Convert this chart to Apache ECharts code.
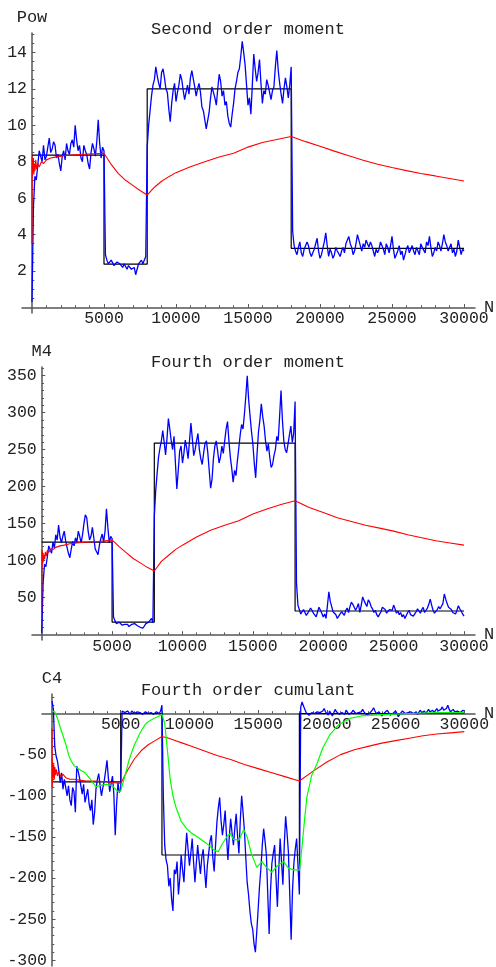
<!DOCTYPE html>
<html><head><meta charset="utf-8">
<script src="https://cdn.jsdelivr.net/npm/echarts@6/dist/echarts.min.js"></script>
<style>html,body{margin:0;padding:0;background:#fff}#c{width:496px;height:967px}</style>
</head><body><div id="c"></div>
<script>
// ---- data ----
const STEP = 100; // blue samples every 100 (N = 0..30000)
const powBlue = [
  0.3,5.5,7.2,7.0,7.8,8.6,8.5,8.0,8.9,8.1,
  8.3,8.8,9.3,8.5,8.7,9.1,8.9,8.2,8.4,7.9,
  7.5,8.3,8.6,8.1,9.0,8.6,8.4,9.0,9.2,8.8,
  10.0,9.2,8.6,8.9,8.2,8.0,8.9,8.6,8.4,7.9,
  7.6,8.5,9.0,8.7,8.3,9.1,10.3,9.0,8.2,8.8,
  8.6,2.9,2.6,2.4,2.3,2.6,2.5,2.3,2.2,2.5,
  2.6,2.4,2.3,2.2,2.4,2.5,2.1,2.3,2.3,2.1,
  2.0,2.2,1.8,2.1,2.4,2.3,2.6,2.4,2.5,2.8,
  8.8,10.0,10.8,11.6,12.2,12.5,13.2,12.7,12.3,12.0,
  12.9,13.1,12.6,12.0,11.8,10.9,10.2,11.2,11.9,12.3,
  11.3,11.8,12.2,12.8,12.5,11.9,11.4,11.8,12.2,11.7,
  12.6,13.0,12.9,12.1,11.6,12.0,12.3,11.8,11.0,10.8,
  10.3,9.8,9.9,10.7,11.5,12.1,11.8,11.5,11.1,12.0,
  12.8,12.4,11.6,11.9,11.1,11.3,10.5,10.1,9.9,10.6,
  11.2,12.0,12.4,12.9,13.1,13.8,14.6,14.0,13.3,12.2,
  11.1,11.5,10.6,12.2,13.9,13.1,12.4,12.9,13.6,12.3,
  11.2,11.9,11.7,12.5,12.2,11.8,11.4,11.9,12.1,13.2,
  14.1,13.0,12.3,11.7,11.2,12.0,12.6,12.1,11.5,12.2,
  13.2,4.2,3.4,3.1,2.9,3.3,3.6,3.0,2.8,3.2,
  3.1,3.6,3.4,3.0,2.8,3.0,3.2,3.5,3.8,3.1,
  2.7,2.9,3.0,3.6,4.1,3.4,2.8,3.2,3.0,2.7,
  2.9,3.3,3.1,3.0,2.8,3.1,3.3,3.0,3.5,3.7,
  3.9,3.5,3.3,2.9,3.1,3.5,4.0,3.7,3.4,3.1,
  3.5,3.3,3.7,3.5,3.3,3.6,3.4,3.1,2.8,3.2,
  3.0,3.2,3.6,3.4,3.2,2.9,3.5,3.3,3.0,3.4,
  3.9,3.2,2.7,2.9,3.1,3.4,2.9,3.1,2.6,2.9,
  3.2,3.4,3.0,3.2,3.4,3.1,2.9,3.3,3.1,2.9,
  3.5,3.3,3.2,3.0,3.6,3.4,3.9,3.3,2.8,3.0,
  3.3,3.1,3.6,3.4,3.1,3.5,4.0,3.6,3.4,3.1,
  3.2,3.5,3.0,3.2,2.8,3.1,3.7,3.3,2.9,3.2,
  3.1];
const m4Blue = [
  2,70,95,92,105,120,118,110,125,117,
  135,128,148,132,124,133,140,127,118,110,
  104,116,126,120,131,125,140,133,124,135,
  150,162,158,140,128,133,145,131,116,112,
  108,121,130,136,125,140,170,145,124,133,
  130,24,19,15,13,17,16,13,15,14,
  12,14,11,13,14,12,15,13,12,10,
  10,12,9,11,15,13,17,15,22,16,
  160,195,218,240,252,262,276,260,243,265,
  292,278,262,250,268,232,197,222,248,255,
  232,245,263,252,238,262,286,265,242,250,
  262,272,250,238,230,245,258,262,246,222,
  198,210,238,255,262,248,232,240,255,245,
  262,278,288,262,240,225,206,222,215,235,
  252,270,284,278,298,322,350,318,296,275,
  258,232,212,245,274,290,312,295,282,262,
  248,258,240,226,230,242,250,268,262,295,
  330,290,262,250,246,258,270,282,260,272,
  315,70,40,34,28,31,34,30,26,29,
  30,36,33,29,27,24,31,37,35,29,
  24,28,22,40,58,45,38,31,33,27,
  22,25,27,31,29,26,33,36,30,38,
  44,41,39,33,37,42,30,40,51,46,
  42,38,47,44,38,35,30,33,27,24,
  25,31,37,35,34,29,31,34,36,33,
  40,35,29,32,27,30,24,27,22,26,
  30,33,27,29,25,28,31,35,32,29,
  34,37,30,33,36,41,48,40,33,29,
  30,34,38,35,33,42,55,48,42,37,
  38,34,30,32,28,33,39,35,32,28,
  25];
const c4Blue = [
  15,5,-40,-52,-58,-70,-84,-72,-92,-80,
  -82,-100,-88,-105,-112,-90,-95,-120,-64,-70,
  -78,-88,-98,-86,-108,-100,-92,-110,-118,-105,
  -135,-120,-92,-80,-73,-88,-100,-90,-82,-70,
  -57,-78,-95,-85,-76,-98,-148,-110,-84,-96,
  -92,3,4,1,2,3,1,-1,3,1,
  0,2,2,0,1,3,-1,1,2,0,
  0,2,1,0,-1,1,2,0,0,3,
  10,-100,-160,-178,-185,-210,-200,-225,-240,-190,
  -195,-180,-220,-200,-172,-190,-205,-170,-145,-165,
  -185,-170,-152,-180,-205,-182,-160,-178,-195,-175,
  -165,-190,-212,-185,-170,-155,-148,-175,-192,-160,
  -132,-115,-102,-130,-148,-135,-118,-150,-178,-150,
  -128,-145,-160,-140,-122,-148,-170,-130,-100,-120,
  -142,-175,-205,-220,-240,-255,-262,-280,-290,-265,
  -238,-210,-188,-160,-140,-155,-172,-220,-268,-215,
  -182,-170,-160,-200,-235,-190,-152,-180,-208,-160,
  -125,-145,-168,-220,-275,-215,-182,-165,-152,-185,
  -220,8,14,9,5,1,2,-2,-3,1,
  3,0,-2,2,4,1,-1,3,6,2,
  0,-2,3,1,-3,1,5,2,1,-1,
  -2,1,2,-1,4,2,-1,0,1,4,
  3,0,-2,1,0,2,5,2,1,-2,
  -3,0,2,4,7,3,0,-1,2,0,
  -3,-1,1,3,4,1,-2,-1,0,2,
  3,0,-4,-1,1,3,2,0,-2,1,
  0,2,3,0,1,2,-1,1,4,1,
  2,3,0,2,5,2,3,4,1,3,
  6,3,2,5,8,4,3,6,10,5,
  2,4,5,2,1,3,4,1,2,4,
  3];

const redN = [0,15,30,50,70,100,130,170,210,260, 320,400,500,650,800,1000,1300,1600,2000,2500,
  3000,4000,5000,5500,6000,6500,7000,7500,8000,8500, 9000,9500,10000,11000,12000,13000,14000,15000,16000,17000,
  18000,19000,20000,21000,22000,23000,24000,25000,26000,27000,28000,29000,30000];
const powRed = [3.5,8.3,7.2,8.1,7.4,8.2,7.3,7.9,7.5,8.1, 7.6,7.9,7.7,8.0,7.9,8.1,8.2,8.25,8.3,8.35,
  8.38,8.42,8.46,7.85,7.35,6.98,6.7,6.42,6.17,6.6, 6.93,7.18,7.4,7.72,8.0,8.26,8.46,8.8,9.05,9.22,
  9.38,9.1,8.85,8.58,8.33,8.08,7.86,7.68,7.51,7.35,7.22,7.08,6.94];
const m4Red = [30,115,92,112,96,110,99,108,102,112, 106,114,111,116,115,118,120,121,123,124,
  125,126,128,119,111,103,97,91,86,99, 107,115,121,132,141,148,154,163,170,176,
  181,172,165,158,153,148,144,140,135,131,127,124,121];
const c4Red = [-18,-90,-55,-82,-60,-78,-62,-80,-65,-75, -68,-76,-70,-77,-74,-78,-80,-80,-81,-82,
  -82,-83,-85,-69,-55,-45,-38,-33,-28,-30, -33,-36,-39,-45,-51,-56,-62,-67,-72,-77,
  -82,-70,-59,-50,-44,-40,-36,-33,-30,-27,-25,-23.5,-22];

const greenN = [0,200,400,600,800,1000,1200,1400,1600,1800, 2000,2400,2800,3200,3600,4000,4400,4800,5000,5200,
  5400,5600,5800,6000,6200,6400,6600,6800,7000,7400, 7800,8000,8200,8400,8600,8800,9000,9400,9800,10200,
  10600,11000,11400,11800,12100,12400,12800,13000,13200,13600, 13950,14200,14500,14900,15280,15600,16000,16400,16850,17200,
  17600,18020,18200,18400,18550,18900,19280,19700,20250,20900, 21700,22500,23400,24500,26000,28000,30000];
const c4Green = [3,2,-6,-17,-27,-37,-50,-58,-63,-66, -68,-72,-80,-89,-87,-86,-88,-95,-94,-82,
  -70,-57,-47,-38,-31,-24,-18,-13,-10,-6, -3,-1,-12,-45,-80,-100,-113,-131,-140,-146,
  -150,-155,-160,-166,-168,-158,-148,-146,-153,-154, -141,-150,-170,-187,-180,-187,-193,-185,-180,-188,
  -190,-190,-160,-125,-101,-75,-61,-42,-25,-13, -6,-3,-2,-1,0,1,1];

const stepN = [0,5000,5000,8000,8000,18000,18000,30000];
const powBlack = [8.36,8.36,2.38,2.38,12.0,12.0,3.25,3.25];
const m4Black = [125,125,17,17,259,259,32,32];
const c4Black = [-83,-83,0,0,-172,-172,0,0];

const xMajor = [5000,10000,15000,20000,25000,30000];
const powMajor = [2,4,6,8,10,12,14];
const m4Major = [50,100,150,200,250,300,350];
const c4Major = [-50,-100,-150,-200,-250,-300];
const titles = ['Second order moment','Fourth order moment','Fourth order cumulant'];
const yNames = ['Pow','M4','C4'];

// ---- minor tick positions ----
const xMinor = []; for (let k = 1; k <= 30; k++) if (k % 5) xMinor.push(k * 1000);
const powMinor = []; for (let k = 1; k <= 30; k++) if (k % 4) powMinor.push(k * 0.5);
const m4Minor = []; for (let k = 1; k <= 36; k++) if (k % 5) m4Minor.push(k * 10);
const c4Minor = []; for (let k = -30; k <= 2; k++) if (k % 5) c4Minor.push(k * 10);

const zip = (a, b) => a.map((v, i) => [v, b[i]]);
const blueN = powBlue.map((_, i) => i * STEP);

const FONT = '"Liberation Mono", "DejaVu Sans Mono", monospace';
const AX = '#555', TX = '#222';
const fmt = v => String(v);

const panels = [
  {grid:{left:22, top:33, width:453, height:280}, xMin:-694, xMax:30764, yMin:-0.30, yMax:15.06,
   yMajor:powMajor, yMinor:powMinor, titleTop:16, blue:powBlue, red:powRed, black:powBlack},
  {grid:{left:32, top:367, width:443, height:273}, xMin:-689, xMax:30781, yMin:-7.2, yMax:361.8,
   yMajor:m4Major, yMinor:m4Minor, titleTop:349, blue:m4Blue, red:m4Red, black:m4Black},
  {grid:{left:42, top:694, width:433, height:272}, xMin:-728, xMax:30779, yMin:-306.9, yMax:23.7,
   yMajor:c4Major, yMinor:c4Minor, titleTop:677, blue:c4Blue, red:c4Red, black:c4Black, green:c4Green}
];

const option = {animation:false, backgroundColor:'#fff', title:[], grid:[], xAxis:[], yAxis:[], series:[]};
panels.forEach((p, i) => {
  option.title.push({text:titles[i], left:'center', top:p.titleTop,
    textStyle:{fontFamily:FONT, fontSize:17, fontWeight:'normal', color:TX}});
  option.grid.push(Object.assign({outerBoundsMode:'none', containLabel:false}, p.grid));
  const xi = 2 * i, yi = 2 * i;
  // place axes through the origin: shift from grid edge to the zero of the other axis
  const xOff = -p.grid.height * (0 - p.yMin) / (p.yMax - p.yMin);
  const yOff = -p.grid.width * (0 - p.xMin) / (p.xMax - p.xMin);
  option.xAxis.push({type:'value', gridIndex:i, min:p.xMin, max:p.xMax, position:'bottom', offset:xOff,
    name:'N', nameLocation:'end', nameGap:9, nameMoveOverlap:false,
    nameTextStyle:{fontFamily:FONT, fontSize:17, color:TX},
    axisLine:{show:true, onZero:false, lineStyle:{color:AX, width:1.5}},
    axisTick:{show:true, inside:true, length:3.5, customValues:xMajor, lineStyle:{color:AX, width:1}},
    axisLabel:{show:true, customValues:xMajor, formatter:fmt, fontFamily:FONT, fontSize:16.5, color:TX, margin:3},
    splitLine:{show:false}});
  option.xAxis.push({type:'value', gridIndex:i, min:p.xMin, max:p.xMax, position:'bottom', offset:xOff,
    axisLine:{show:false, onZero:false},
    axisTick:{show:true, inside:true, length:2.3, customValues:xMinor, lineStyle:{color:AX, width:1}},
    axisLabel:{show:false}, splitLine:{show:false}});
  option.yAxis.push({type:'value', gridIndex:i, min:p.yMin, max:p.yMax, position:'left', offset:yOff,
    name:yNames[i], nameLocation:'end', nameGap:7, nameMoveOverlap:false,
    nameTextStyle:{fontFamily:FONT, fontSize:17, color:TX},
    axisLine:{show:true, onZero:false, lineStyle:{color:AX, width:1.5}},
    axisTick:{show:true, inside:true, length:3.5, customValues:p.yMajor, lineStyle:{color:AX, width:1}},
    axisLabel:{show:true, customValues:p.yMajor, formatter:fmt, fontFamily:FONT, fontSize:16.5, color:TX, margin:5},
    splitLine:{show:false}});
  option.yAxis.push({type:'value', gridIndex:i, min:p.yMin, max:p.yMax, position:'left', offset:yOff,
    axisLine:{show:false, onZero:false},
    axisTick:{show:true, inside:true, length:2.3, customValues:p.yMinor, lineStyle:{color:AX, width:1}},
    axisLabel:{show:false}, splitLine:{show:false}});
  const base = {type:'line', xAxisIndex:xi, yAxisIndex:yi, showSymbol:false, symbol:'none', silent:true};
  option.series.push(Object.assign({}, base, {data:zip(stepN, p.black), lineStyle:{color:'#000', width:1.2}}));
  option.series.push(Object.assign({}, base, {data:zip(blueN, p.blue), lineStyle:{color:'#0000ff', width:1.3}}));
  option.series.push(Object.assign({}, base, {data:zip(redN, p.red), lineStyle:{color:'#ff0000', width:1.1}}));
  if (p.green) option.series.push(Object.assign({}, base, {data:zip(greenN, p.green), lineStyle:{color:'#00ff00', width:1.2}}));
});

const chart = echarts.init(document.getElementById('c'), null, {renderer:'canvas'});
chart.setOption(option);
</script>
</body></html>
